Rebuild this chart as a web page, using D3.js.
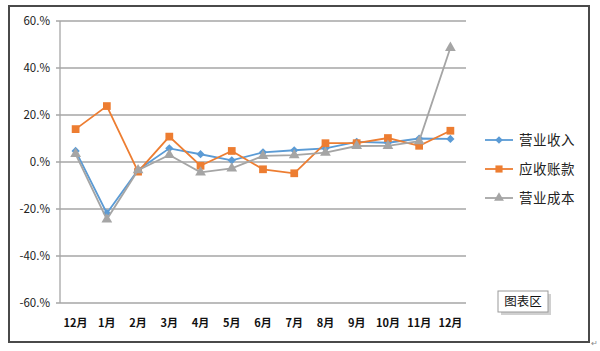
<!DOCTYPE html>
<html>
<head>
<meta charset="utf-8">
<script src="https://cdn.jsdelivr.net/npm/d3@7"></script>
<style>
  body { margin: 0; background: #fff; }
  svg { display: block; }
</style>
</head>
<body>
<svg id="chart" width="600" height="351"></svg>
<script>
// months along the x axis
var months = ["12月", "1月", "2月", "3月", "4月", "5月", "6月", "7月", "8月", "9月", "10月", "11月", "12月"];
// growth rates, percent
var revenue = [4.7, -21.8, -3.4, 5.8, 3.3, 0.7, 4.1, 5.0, 5.8, 8.6, 8.2, 10.0, 9.8];
var receivables = [14.0, 23.8, -4.1, 10.8, -1.6, 4.7, -3.1, -4.8, 8.0, 8.0, 10.2, 6.9, 13.3];
var cost = [3.4, -24.4, -3.5, 3.0, -4.4, -2.7, 2.6, 2.9, 4.0, 6.8, 6.9, 8.9, 48.6];
var yTicks = [-60, -40, -20, 0, 20, 40, 60];

var seriesNames = ["营业收入", "应收账款", "营业成本"];
var seriesColors = ["#5B9BD5", "#ED7D31", "#A5A5A5"];
var seriesShapes = [d3.symbolSquare, d3.symbolSquare, d3.symbolTriangle];
var seriesRotate = [45, 0, 0];
var seriesSizes = [34, 60, 50];
var seriesData = [revenue, receivables, cost];

var svg = d3.select("#chart");
var font = "'Noto Sans CJK SC', 'Noto Sans', sans-serif";

// outer frame
svg.append("rect")
    .attr("x", 9).attr("y", 6)
    .attr("width", 580).attr("height", 336)
    .attr("fill", "#fff")
    .attr("stroke", "#4a4a4a")
    .attr("stroke-width", 2);

var margin = {top: 21, left: 60},
    width = 406, height = 282;

var x = d3.scaleBand().domain(d3.range(months.length)).range([0, width]);
var y = d3.scaleLinear().domain([-60, 60]).range([height, 0]);

var g = svg.append("g")
    .attr("transform", "translate(" + margin.left + "," + margin.top + ")");

// gridlines
g.selectAll(".grid")
    .data(yTicks)
    .enter().append("line")
    .attr("x1", -4).attr("x2", width)
    .attr("y1", function (d) { return y(d); })
    .attr("y2", function (d) { return y(d); })
    .attr("stroke", "#a6a6a6")
    .attr("stroke-width", 1.3);

// y axis line
g.append("line")
    .attr("x1", 0).attr("x2", 0)
    .attr("y1", 0).attr("y2", height)
    .attr("stroke", "#a6a6a6")
    .attr("stroke-width", 1.3);

// y tick labels
g.selectAll(".ylab")
    .data(yTicks)
    .enter().append("text")
    .attr("x", -10)
    .attr("y", function (d) { return y(d); })
    .attr("dy", "0.35em")
    .attr("text-anchor", "end")
    .attr("font-family", font)
    .attr("font-size", 11.5)
    .attr("fill", "#222")
    .text(function (d) { return d + ".%"; });

// x labels
g.selectAll(".xlab")
    .data(months)
    .enter().append("text")
    .attr("x", function (d, i) { return x(i) + x.bandwidth() / 2; })
    .attr("y", height + 24)
    .attr("text-anchor", "middle")
    .attr("font-family", font)
    .attr("font-size", 11)
    .attr("font-weight", "bold")
    .attr("fill", "#111")
    .text(function (d) { return d; });

var line = d3.line()
    .x(function (d, i) { return x(i) + x.bandwidth() / 2; })
    .y(function (d) { return y(d); });

seriesData.forEach(function (data, s) {
    g.append("path")
        .datum(data)
        .attr("d", line)
        .attr("fill", "none")
        .attr("stroke", seriesColors[s])
        .attr("stroke-width", 1.8);

    g.selectAll(".pt" + s)
        .data(data)
        .enter().append("path")
        .attr("transform", function (d, i) {
            return "translate(" + (x(i) + x.bandwidth() / 2) + "," + y(d) + ") rotate(" + seriesRotate[s] + ")";
        })
        .attr("d", d3.symbol().type(seriesShapes[s]).size(seriesSizes[s]))
        .attr("fill", seriesColors[s]);
});

// legend
var legend = svg.append("g");
seriesNames.forEach(function (name, s) {
    var ly = 140 + s * 29;
    legend.append("line")
        .attr("x1", 485).attr("x2", 513)
        .attr("y1", ly).attr("y2", ly)
        .attr("stroke", seriesColors[s])
        .attr("stroke-width", 1.8);
    legend.append("path")
        .attr("transform", "translate(499," + ly + ") rotate(" + seriesRotate[s] + ")")
        .attr("d", d3.symbol().type(seriesShapes[s]).size(seriesSizes[s] * 0.85))
        .attr("fill", seriesColors[s]);
    legend.append("text")
        .attr("x", 519).attr("y", ly)
        .attr("dy", "0.35em")
        .attr("font-family", font)
        .attr("font-size", 13.5)
        .attr("letter-spacing", 0.5)
        .attr("fill", "#222")
        .text(name);
});

// "图表区" tooltip box
svg.append("rect")
    .attr("x", 501).attr("y", 294)
    .attr("width", 50).attr("height", 21)
    .attr("fill", "#d0d0d0");
svg.append("rect")
    .attr("x", 498).attr("y", 291)
    .attr("width", 50).attr("height", 21)
    .attr("fill", "#fff")
    .attr("stroke", "#9a9a9a")
    .attr("stroke-width", 1);
svg.append("text")
    .attr("x", 523).attr("y", 302)
    .attr("dy", "0.35em")
    .attr("text-anchor", "middle")
    .attr("font-family", font)
    .attr("font-size", 12.5)
    .attr("fill", "#111")
    .text("图表区");

// paragraph mark
svg.append("text")
    .attr("x", 591).attr("y", 346)
    .attr("font-family", font)
    .attr("font-size", 8)
    .attr("fill", "#888")
    .text("↵");
</script>
</body>
</html>
